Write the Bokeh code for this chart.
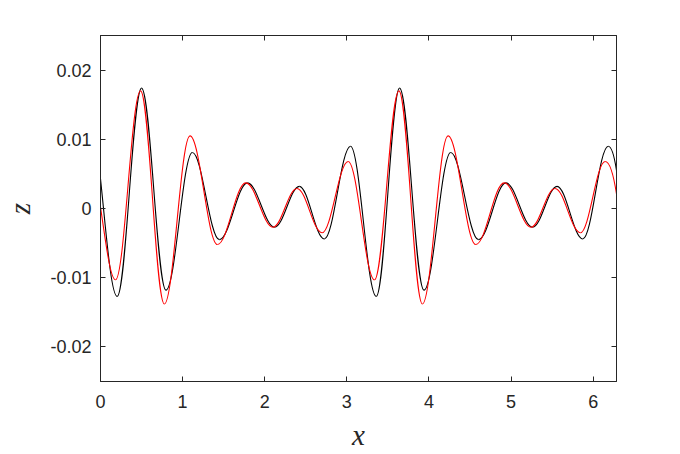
import numpy as np
from bokeh.plotting import figure
from bokeh.models import LinearAxis, FixedTicker, Range1d, ColumnDataSource
from bokeh.embed import file_html
from bokeh.resources import INLINE

# ---- data (extrema of each curve plus its two end values) ----
x_ticks = [0, 1, 2, 3, 4, 5, 6]
x_tick_labels = ["0", "1", "2", "3", "4", "5", "6"]
y_ticks = [-0.02, -0.01, 0.0, 0.01, 0.02]
y_tick_labels = ["-0.02", "-0.01", "0", "0.01", "0.02"]

X_MAX = 2 * np.pi

black_x = [0.0, 0.203, 0.500, 0.797, 1.119, 1.448, 1.790, 2.120, 2.421, 2.726, 3.044,
           3.358, 3.642, 3.939, 4.265, 4.603, 4.937, 5.262, 5.559, 5.873, 6.182, X_MAX]
black_z = [0.0043, -0.0127, 0.0174, -0.0118, 0.0081, -0.0045, 0.0037, -0.0027, 0.0032, -0.0044, 0.0090,
           -0.0127, 0.0174, -0.0118, 0.0081, -0.0045, 0.0037, -0.0027, 0.0032, -0.0044, 0.0090, 0.0055]

red_x = [0.0, 0.183, 0.488, 0.777, 1.090, 1.424, 1.770, 2.100, 2.393, 2.698, 3.016,
         3.337, 3.634, 3.919, 4.232, 4.570, 4.916, 5.242, 5.535, 5.844, 6.145, X_MAX]
red_z = [0.0002, -0.0103, 0.0170, -0.0138, 0.0105, -0.0052, 0.0037, -0.0027, 0.0029, -0.0035, 0.0068,
         -0.0103, 0.0170, -0.0138, 0.0105, -0.0052, 0.0037, -0.0027, 0.0029, -0.0035, 0.0068, 0.0021]


def smooth_segments(xs, zs, h=0.3634, f_start=0.45, f_end=0.75):
    """Bezier segments between consecutive extrema (flat tangents at the extrema)."""
    xs = np.asarray(xs, dtype=float)
    zs = np.asarray(zs, dtype=float)
    x0, x1 = xs[:-1], xs[1:]
    y0, y1 = zs[:-1], zs[1:]
    d = x1 - x0
    cx0 = x0 + h * d
    cy0 = y0.copy()
    cx1 = x1 - h * d
    cy1 = y1.copy()
    # first segment begins at the left edge (not an extremum)
    cx0[0] = x0[0] + d[0] / 3
    cy0[0] = y0[0] + f_start * (y1[0] - y0[0])
    # last segment ends at the right edge (not an extremum)
    cx1[-1] = x1[-1] - d[-1] / 3
    cy1[-1] = y1[-1] + f_end * (y0[-1] - y1[-1])
    return ColumnDataSource(dict(x0=x0, y0=y0, x1=x1, y1=y1,
                                 cx0=cx0, cy0=cy0, cx1=cx1, cy1=cy1))


AX_COLOR = "#262626"
TICK_FONT = "Liberation Sans"

p = figure(width=680, height=454,
           x_range=Range1d(0, X_MAX), y_range=Range1d(-0.025, 0.025),
           output_backend="svg", toolbar_location=None,
           min_border_left=100, min_border_right=64,
           min_border_top=35, min_border_bottom=73,
           background_fill_color="white", border_fill_color="white")

p.grid.visible = False
p.outline_line_color = AX_COLOR
p.outline_line_width = 1

p.bezier(x0="x0", y0="y0", x1="x1", y1="y1", cx0="cx0", cy0="cy0", cx1="cx1", cy1="cy1",
         source=smooth_segments(black_x, black_z), line_color="black", line_width=1.1)
p.bezier(x0="x0", y0="y0", x1="x1", y1="y1", cx0="cx0", cy0="cy0", cx1="cx1", cy1="cy1",
         source=smooth_segments(red_x, red_z), line_color="#ff0000", line_width=1.1)

# extra axes on top and right carrying ticks only
p.add_layout(LinearAxis(), "above")
p.add_layout(LinearAxis(), "right")

for ax in p.xaxis:
    ax.ticker = FixedTicker(ticks=x_ticks)
    ax.major_label_overrides = {t: s for t, s in zip(x_ticks, x_tick_labels)}
for ax in p.yaxis:
    ax.ticker = FixedTicker(ticks=y_ticks)
    ax.major_label_overrides = {t: s for t, s in zip(y_ticks, y_tick_labels)}

for ax in list(p.xaxis) + list(p.yaxis):
    ax.axis_line_color = AX_COLOR
    ax.axis_line_width = 1
    ax.major_tick_line_color = AX_COLOR
    ax.major_tick_in = 5
    ax.major_tick_out = 0
    ax.minor_tick_line_color = None
    ax.major_label_text_font = TICK_FONT
    ax.major_label_text_font_size = "18px"
    ax.major_label_text_color = AX_COLOR
    ax.major_label_standoff = 9

p.below[0].major_label_standoff = 13

for ax in p.above + p.right:
    ax.major_label_text_color = None

# axis titles
for ax, name, standoff in ((p.below[0], "x", 8), (p.left[0], "z", 11)):
    ax.axis_label = name
    ax.axis_label_text_font = "Liberation Serif"
    ax.axis_label_text_font_style = "italic"
    ax.axis_label_text_font_size = "29px"
    ax.axis_label_text_color = AX_COLOR
    ax.axis_label_standoff = standoff

open("out.html", "w").write(file_html(p, INLINE))
